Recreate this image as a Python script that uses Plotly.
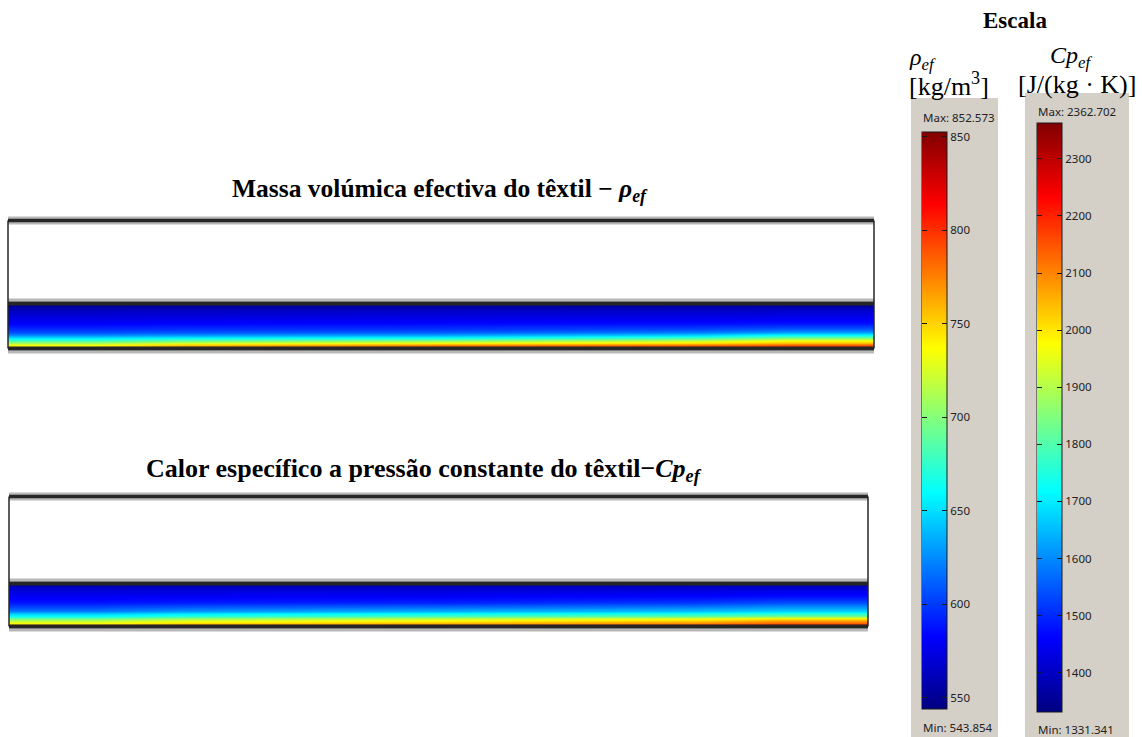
import plotly.graph_objects as go

FIG_W, FIG_H = 1142, 737

# MATLAB-style jet colour map
JET = [
    [0.0, "rgb(0,0,128)"],
    [0.125, "rgb(0,0,255)"],
    [0.375, "rgb(0,255,255)"],
    [0.625, "rgb(255,255,0)"],
    [0.875, "rgb(255,0,0)"],
    [1.0, "rgb(128,0,0)"],
]

# Layer boundaries through the textile thickness (0 = bottom face, 1 = top face)
depth_edges = [0.0, 0.04, 0.08, 0.12, 0.16, 0.20, 0.24, 0.30, 0.36, 0.48, 0.62, 0.78, 0.92, 1.0]
# Sections along the strip length (left end, middle, right end)
section_edges = [0.0, 0.2, 0.8, 1.0]

# Effective density of the textile [kg/m3], per layer (bottom -> top)
rho_left = [745, 738, 725, 705, 680, 660, 640, 618, 597, 582, 573, 563, 550]
rho_mid = [795, 778, 758, 730, 700, 672, 650, 625, 600, 585, 575, 565, 551]
rho_right = [805, 790, 775, 752, 735, 705, 680, 652, 612, 588, 577, 567, 552]
rho_min, rho_max = 543.854, 852.573
rho_ticks = [550, 600, 650, 700, 750, 800, 850]

# Effective specific heat of the textile [J/(kg K)], per layer (bottom -> top)
cp_left = [2080, 2010, 1960, 1900, 1830, 1760, 1700, 1635, 1550, 1480, 1450, 1415, 1368]
cp_mid = [2150, 2090, 2030, 1975, 1910, 1840, 1760, 1695, 1595, 1495, 1455, 1420, 1370]
cp_right = [2220, 2170, 2120, 2070, 1990, 1900, 1800, 1720, 1635, 1540, 1470, 1428, 1372]
cp_min, cp_max = 1331.341, 2362.702
cp_ticks = [1400, 1500, 1600, 1700, 1800, 1900, 2000, 2100, 2200, 2300]

PANEL_GRAY = "#d4d0c8"
EDGE_DARK = "#262626"
EDGE_LIGHT = "#b8b8b8"
SERIF = "Liberation Serif"
UI_FONT = "Noto Sans"


def px_x(x):
    return x / FIG_W


def px_y(y):
    return 1 - y / FIG_H


def strip_geometry(left, right, top, sep, bottom, pad_px=8):
    """Axis domains/ranges for one strip given its outline in pixels."""
    unit = bottom - sep                      # pixels per textile thickness
    gap = (sep - top) / unit                 # air layer above the textile
    ypad = pad_px / unit
    xpad = pad_px / (right - left)
    xaxis = dict(domain=[px_x(left - pad_px), px_x(right + pad_px)],
                 range=[-xpad, 1 + xpad], visible=False, fixedrange=True)
    yaxis = dict(domain=[px_y(bottom + pad_px), px_y(top - pad_px)],
                 range=[-ypad, 1 + gap + ypad], visible=False, fixedrange=True)
    return xaxis, yaxis, gap, unit


def strip_shapes(xref, yref, gap, unit):
    """Boundary lines of the strip with a shaded, 3D-looking edge."""
    def hline(y, color, width):
        return dict(type="line", xref=xref, yref=yref, x0=0, x1=1, y0=y, y1=y,
                    line=dict(color=color, width=width), layer="above")

    def vline(x):
        return dict(type="line", xref=xref, yref=yref, x0=x, x1=x, y0=0, y1=1 + gap,
                    line=dict(color=EDGE_DARK, width=1.5), layer="above")

    top = 1 + gap
    return [
        hline(top, EDGE_LIGHT, 8), hline(top, EDGE_DARK, 3.5),
        hline(1 + 3.5 / unit, EDGE_LIGHT, 3), hline(1, EDGE_DARK, 4),
        hline(-3.5 / unit, EDGE_LIGHT, 3), hline(0, EDGE_DARK, 4),
        vline(0), vline(1),
    ]


def layer_table(left, mid, right):
    return [[a, b, c] for a, b, c in zip(left, mid, right)]


def colorbar_style(x_left, y_top, length, ticks):
    return dict(
        x=px_x(x_left), xanchor="left", xpad=0,
        y=px_y(y_top), yanchor="top", ypad=0,
        len=length, lenmode="pixels", thickness=25, thicknessmode="pixels",
        tickmode="array", tickvals=ticks, ticks="inside", ticklen=5,
        tickwidth=1, tickcolor="#1a1a1a",
        tickfont=dict(family=UI_FONT, size=11.5, color="#222222"),
        outlinewidth=1, outlinecolor="#1a1a1a",
        bgcolor="rgba(0,0,0,0)", borderwidth=0,
    )


def left_tick_bar(x_left, y_top, length, ticks):
    """Zero-width scale whose ticks mark the left edge of a colour bar."""
    return dict(
        x=px_x(x_left), xanchor="left", xpad=0,
        y=px_y(y_top), yanchor="top", ypad=0,
        len=length, lenmode="pixels", thickness=0, thicknessmode="pixels",
        tickmode="array", tickvals=ticks, ticks="outside", ticklen=5,
        tickwidth=1, tickcolor="#1a1a1a", showticklabels=False,
        outlinewidth=0, bgcolor="rgba(0,0,0,0)", borderwidth=0,
    )


x1, y1, gap1, unit1 = strip_geometry(8, 874, 220.5, 303.5, 348.5)
x2, y2, gap2, unit2 = strip_geometry(9, 868, 496.5, 583.5, 626.5)

RHO_BAR = dict(x_left=922, y_top=132, length=577)
CP_BAR = dict(x_left=1037, y_top=123, length=589)

fig = go.Figure()

fig.add_trace(go.Heatmap(
    x=section_edges, y=depth_edges, z=layer_table(rho_left, rho_mid, rho_right),
    zmin=rho_min, zmax=rho_max, colorscale=JET, zsmooth="best",
    colorbar=colorbar_style(ticks=rho_ticks, **RHO_BAR),
    hoverinfo="skip", xaxis="x", yaxis="y",
))
fig.add_trace(go.Heatmap(
    x=section_edges, y=depth_edges, z=layer_table(cp_left, cp_mid, cp_right),
    zmin=cp_min, zmax=cp_max, colorscale=JET, zsmooth="best",
    colorbar=colorbar_style(ticks=cp_ticks, **CP_BAR),
    hoverinfo="skip", xaxis="x2", yaxis="y2",
))

# Tick marks on the left edge of each colour bar
for lo, hi, ticks, bar, ax in [(rho_min, rho_max, rho_ticks, RHO_BAR, ("x", "y")),
                               (cp_min, cp_max, cp_ticks, CP_BAR, ("x2", "y2"))]:
    fig.add_trace(go.Scatter(
        x=[None], y=[None], mode="markers", showlegend=False, hoverinfo="skip",
        marker=dict(color=[lo], colorscale=JET, cmin=lo, cmax=hi, showscale=True,
                    colorbar=left_tick_bar(ticks=ticks, **bar)),
        xaxis=ax[0], yaxis=ax[1],
    ))

shapes = []
# Grey scale panels behind the colour bars
shapes.append(dict(type="rect", xref="paper", yref="paper", layer="below",
                   x0=px_x(911), x1=px_x(998), y0=0, y1=px_y(98),
                   fillcolor=PANEL_GRAY, line=dict(width=0)))
shapes.append(dict(type="rect", xref="paper", yref="paper", layer="below",
                   x0=px_x(1025), x1=px_x(1129), y0=0, y1=px_y(93),
                   fillcolor=PANEL_GRAY, line=dict(width=0)))
shapes += strip_shapes("x", "y", gap1, unit1)
shapes += strip_shapes("x2", "y2", gap2, unit2)


def text(x, y, s, size, family=SERIF, xanchor="center", color="black"):
    return dict(x=px_x(x), y=px_y(y), xref="paper", yref="paper", text=s,
                showarrow=False, xanchor=xanchor, yanchor="middle",
                font=dict(family=family, size=size, color=color))


annotations = [
    text(440, 190, "<b>Massa volúmica efectiva do têxtil − <i>ρ</i><sub><i>ef</i></sub></b>", 25.5),
    text(424, 470, "<b>Calor específico a pressão constante do têxtil−<i>Cp</i><sub><i>ef</i></sub></b>", 26),
    text(1015, 21, "<b>Escala</b>", 23),
    text(922, 59, "<i>ρ</i><sub><i>ef</i></sub>", 24),
    text(949, 84, "[kg/m<sup>3</sup>]", 26),
    text(1071, 57, "<i>Cp</i><sub><i>ef</i></sub>", 24),
    text(1077, 84, "[J/(kg · K)]", 26),
    text(921, 117, f"Max: {rho_max:.3f}", 11.5, UI_FONT, "left", "#222222"),
    text(921, 727, f"Min: {rho_min:.3f}", 11.5, UI_FONT, "left", "#222222"),
    text(1036, 112, f"Max: {cp_max:.3f}", 11.5, UI_FONT, "left", "#222222"),
    text(1036, 729, f"Min: {cp_min:.3f}", 11.5, UI_FONT, "left", "#222222"),
]

fig.update_layout(
    width=FIG_W, height=FIG_H,
    margin=dict(l=0, r=0, t=0, b=0, pad=0, autoexpand=False),
    paper_bgcolor="white", plot_bgcolor="white",
    showlegend=False,
    xaxis=x1, yaxis=y1, xaxis2=x2, yaxis2=y2,
    shapes=shapes, annotations=annotations,
)

fig.write_html("out.html", config=dict(displayModeBar=False))
